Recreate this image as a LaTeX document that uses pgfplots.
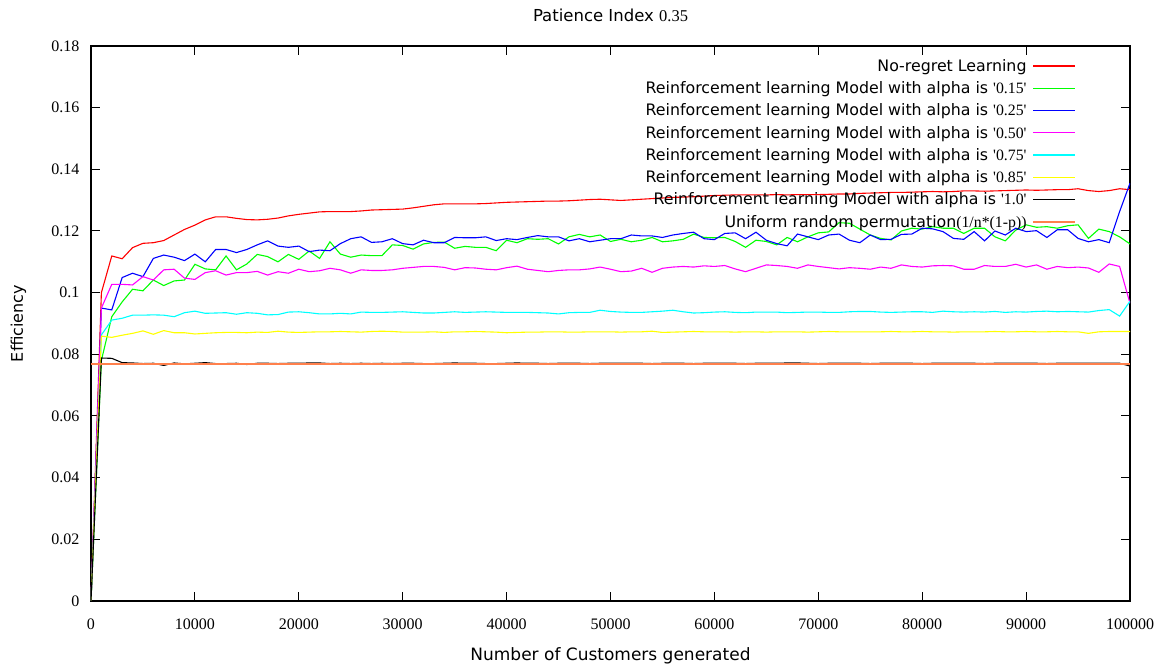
\documentclass[border=0pt]{standalone}
\usepackage{fontspec}
\setmainfont{Liberation Serif}
\setsansfont{DejaVu Sans}
\usepackage{pgfplots}
\usepackage{pgfplotstable}
\pgfplotsset{compat=1.18}

% pure screen colours
\definecolor{cRed}{rgb}{1,0,0}
\definecolor{cGreen}{rgb}{0,1,0}
\definecolor{cBlue}{rgb}{0,0,1}
\definecolor{cMagenta}{rgb}{1,0,1}
\definecolor{cCyan}{rgb}{0,1,1}
\definecolor{cYellow}{rgb}{1,1,0}
\definecolor{cBlack}{rgb}{0,0,0}
\definecolor{cOrange}{rgb}{1,0.5,0.3}

\newcommand{\sq}{\textquotesingle}
\newcommand{\rl}[1]{\sffamily Reinforcement learning Model with alpha is \rmfamily\sq#1\sq}

% short coloured sample line for each legend row
\pgfplotsset{
  limg/.style={legend image code/.code={\draw[#1, line width=1.3bp] plot coordinates {(0bp,0bp) (42bp,0bp)};}},
}

% efficiency per number of customers generated
% R: no-regret, G: alpha 0.15, B: 0.25, M: 0.50, C: 0.75, Y: 0.85, K: 1.0, U: uniform random permutation
\pgfplotstableread{
x R G B M C Y K U
0 0 0 0 0 0 0 0 0.077
1000 0.1000 0.0780 0.0950 0.0950 0.0863 0.0859 0.0788 0.077
2000 0.1119 0.0922 0.0944 0.1027 0.0911 0.0855 0.0787 0.077
3000 0.1110 0.0970 0.1049 0.1027 0.0917 0.0862 0.0773 0.077
4000 0.1146 0.1011 0.1063 0.1025 0.0927 0.0868 0.0772 0.077
5000 0.1160 0.1006 0.1052 0.1052 0.0927 0.0876 0.0770 0.077
6000 0.1162 0.1041 0.1111 0.1041 0.0928 0.0865 0.0771 0.077
7000 0.1169 0.1023 0.1122 0.1074 0.0927 0.0877 0.0764 0.077
8000 0.1187 0.1038 0.1115 0.1076 0.0922 0.0870 0.0772 0.077
9000 0.1205 0.1041 0.1104 0.1047 0.0935 0.0870 0.0769 0.077
10000 0.1219 0.1092 0.1125 0.1043 0.0940 0.0866 0.0771 0.077
11000 0.1236 0.1077 0.1100 0.1065 0.0933 0.0868 0.0773 0.077
12000 0.1246 0.1074 0.1140 0.1071 0.0934 0.0870 0.0770 0.077
13000 0.1246 0.1119 0.1140 0.1057 0.0935 0.0871 0.0770 0.077
14000 0.1241 0.1074 0.1130 0.1065 0.0930 0.0871 0.0771 0.077
15000 0.1237 0.1093 0.1140 0.1065 0.0935 0.0870 0.0767 0.077
16000 0.1236 0.1124 0.1155 0.1069 0.0933 0.0872 0.0771 0.077
17000 0.1238 0.1117 0.1168 0.1057 0.0928 0.0871 0.0771 0.077
18000 0.1242 0.1100 0.1151 0.1068 0.0929 0.0875 0.0770 0.077
19000 0.1249 0.1124 0.1147 0.1063 0.0937 0.0872 0.0771 0.077
20000 0.1254 0.1108 0.1151 0.1076 0.0938 0.0871 0.0771 0.077
21000 0.1258 0.1135 0.1133 0.1068 0.0935 0.0872 0.0772 0.077
22000 0.1262 0.1111 0.1138 0.1071 0.0931 0.0873 0.0772 0.077
23000 0.1263 0.1165 0.1136 0.1079 0.0931 0.0873 0.0770 0.077
24000 0.1263 0.1125 0.1159 0.1074 0.0933 0.0874 0.0771 0.077
25000 0.1263 0.1115 0.1175 0.1063 0.0931 0.0873 0.0770 0.077
26000 0.1265 0.1122 0.1181 0.1074 0.0937 0.0872 0.0771 0.077
27000 0.1268 0.1120 0.1163 0.1072 0.0936 0.0874 0.0770 0.077
28000 0.1269 0.1120 0.1165 0.1072 0.0936 0.0875 0.0771 0.077
29000 0.1270 0.1155 0.1175 0.1074 0.0937 0.0874 0.0770 0.077
30000 0.1271 0.1153 0.1159 0.1079 0.0938 0.0872 0.0771 0.077
31000 0.1275 0.1141 0.1155 0.1082 0.0936 0.0872 0.0771 0.077
32000 0.1280 0.1158 0.1170 0.1085 0.0934 0.0872 0.0770 0.077
33000 0.1285 0.1163 0.1162 0.1085 0.0934 0.0873 0.0770 0.077
34000 0.1288 0.1164 0.1162 0.1082 0.0936 0.0871 0.0771 0.077
35000 0.1288 0.1144 0.1179 0.1074 0.0938 0.0873 0.0772 0.077
36000 0.1288 0.1150 0.1178 0.1081 0.0936 0.0873 0.0771 0.077
37000 0.1288 0.1147 0.1178 0.1080 0.0937 0.0874 0.0771 0.077
38000 0.1289 0.1147 0.1181 0.1076 0.0938 0.0873 0.0770 0.077
39000 0.1291 0.1136 0.1169 0.1074 0.0937 0.0872 0.0770 0.077
40000 0.1293 0.1170 0.1175 0.1081 0.0936 0.0870 0.0771 0.077
41000 0.1294 0.1162 0.1172 0.1086 0.0936 0.0871 0.0772 0.077
42000 0.1295 0.1175 0.1179 0.1076 0.0936 0.0872 0.0771 0.077
43000 0.1296 0.1173 0.1185 0.1072 0.0935 0.0872 0.0771 0.077
44000 0.1297 0.1175 0.1181 0.1068 0.0934 0.0873 0.0770 0.077
45000 0.1297 0.1158 0.1181 0.1072 0.0931 0.0873 0.0771 0.077
46000 0.1298 0.1181 0.1168 0.1074 0.0935 0.0872 0.0771 0.077
47000 0.1300 0.1189 0.1175 0.1074 0.0936 0.0872 0.0771 0.077
48000 0.1302 0.1181 0.1165 0.1077 0.0936 0.0873 0.0770 0.077
49000 0.1303 0.1187 0.1170 0.1083 0.0943 0.0873 0.0771 0.077
50000 0.1301 0.1166 0.1175 0.1076 0.0939 0.0873 0.0771 0.077
51000 0.1299 0.1173 0.1175 0.1068 0.0937 0.0872 0.0771 0.077
52000 0.1301 0.1165 0.1187 0.1070 0.0936 0.0873 0.0771 0.077
53000 0.1303 0.1170 0.1184 0.1079 0.0936 0.0873 0.0771 0.077
54000 0.1305 0.1179 0.1184 0.1066 0.0938 0.0875 0.0770 0.077
55000 0.1307 0.1165 0.1179 0.1079 0.0940 0.0871 0.0771 0.077
56000 0.1309 0.1168 0.1187 0.1083 0.0943 0.0872 0.0771 0.077
57000 0.1310 0.1173 0.1192 0.1085 0.0938 0.0873 0.0771 0.077
58000 0.1311 0.1190 0.1196 0.1083 0.0934 0.0874 0.0770 0.077
59000 0.1313 0.1179 0.1175 0.1087 0.0935 0.0873 0.0771 0.077
60000 0.1315 0.1178 0.1172 0.1085 0.0937 0.0873 0.0771 0.077
61000 0.1316 0.1179 0.1192 0.1088 0.0938 0.0873 0.0771 0.077
62000 0.1317 0.1166 0.1194 0.1077 0.0936 0.0872 0.0771 0.077
63000 0.1317 0.1147 0.1175 0.1068 0.0935 0.0873 0.0770 0.077
64000 0.1317 0.1170 0.1196 0.1079 0.0937 0.0873 0.0771 0.077
65000 0.1317 0.1166 0.1170 0.1090 0.0937 0.0872 0.0771 0.077
66000 0.1318 0.1155 0.1159 0.1088 0.0937 0.0873 0.0771 0.077
67000 0.1317 0.1179 0.1152 0.1085 0.0935 0.0873 0.0772 0.077
68000 0.1318 0.1165 0.1190 0.1079 0.0936 0.0873 0.0772 0.077
69000 0.1318 0.1181 0.1181 0.1090 0.0937 0.0872 0.0771 0.077
70000 0.1318 0.1194 0.1172 0.1085 0.0937 0.0873 0.0770 0.077
71000 0.1319 0.1197 0.1187 0.1081 0.0936 0.0874 0.0771 0.077
72000 0.1320 0.1227 0.1190 0.1077 0.0936 0.0873 0.0771 0.077
73000 0.1320 0.1225 0.1170 0.1081 0.0938 0.0873 0.0771 0.077
74000 0.1322 0.1206 0.1162 0.1079 0.0939 0.0873 0.0771 0.077
75000 0.1323 0.1187 0.1187 0.1076 0.0939 0.0873 0.0770 0.077
76000 0.1324 0.1176 0.1172 0.1083 0.0937 0.0873 0.0771 0.077
77000 0.1325 0.1171 0.1173 0.1079 0.0936 0.0874 0.0771 0.077
78000 0.1325 0.1200 0.1189 0.1090 0.0937 0.0873 0.0771 0.077
79000 0.1326 0.1209 0.1190 0.1085 0.0938 0.0873 0.0771 0.077
80000 0.1327 0.1206 0.1209 0.1083 0.0938 0.0874 0.0770 0.077
81000 0.1328 0.1214 0.1207 0.1087 0.0936 0.0873 0.0771 0.077
82000 0.1327 0.1209 0.1198 0.1088 0.0940 0.0873 0.0771 0.077
83000 0.1328 0.1209 0.1176 0.1087 0.0938 0.0872 0.0771 0.077
84000 0.1330 0.1192 0.1173 0.1076 0.0937 0.0873 0.0771 0.077
85000 0.1330 0.1209 0.1198 0.1076 0.0938 0.0873 0.0771 0.077
86000 0.1329 0.1209 0.1168 0.1088 0.0937 0.0873 0.0770 0.077
87000 0.1330 0.1181 0.1200 0.1085 0.0939 0.0874 0.0771 0.077
88000 0.1331 0.1168 0.1187 0.1085 0.0936 0.0873 0.0771 0.077
89000 0.1332 0.1203 0.1209 0.1092 0.0938 0.0873 0.0771 0.077
90000 0.1333 0.1220 0.1198 0.1083 0.0937 0.0874 0.0771 0.077
91000 0.1332 0.1212 0.1201 0.1090 0.0939 0.0873 0.0771 0.077
92000 0.1333 0.1214 0.1179 0.1076 0.0940 0.0873 0.0770 0.077
93000 0.1334 0.1209 0.1204 0.1085 0.0938 0.0874 0.0771 0.077
94000 0.1334 0.1217 0.1204 0.1081 0.0939 0.0873 0.0771 0.077
95000 0.1337 0.1220 0.1176 0.1083 0.0938 0.0873 0.0771 0.077
96000 0.1331 0.1176 0.1165 0.1080 0.0937 0.0868 0.0771 0.077
97000 0.1328 0.1206 0.1172 0.1066 0.0942 0.0873 0.0771 0.077
98000 0.1331 0.1198 0.1162 0.1093 0.0945 0.0874 0.0771 0.077
99000 0.1337 0.1181 0.1263 0.1085 0.0924 0.0874 0.0771 0.077
100000 0.1334 0.1158 0.1355 0.0965 0.0972 0.0874 0.0762 0.077
}\efftable

\begin{document}
\begin{tikzpicture}[x=1bp,y=1bp]
\path[use as bounding box] (-91,-64) rectangle (1073,601);
\begin{axis}[
  at={(0,0)}, anchor=south west,
  scale only axis, width=1039bp, height=555bp,
  xmin=0, xmax=100000, ymin=0, ymax=0.18,
  xtick={0,10000,20000,30000,40000,50000,60000,70000,80000,90000,100000},
  ytick={0,0.02,0.04,0.06,0.08,0.1,0.12,0.14,0.16,0.18},
  scaled x ticks=false, scaled y ticks=false,
  /pgf/number format/assume math mode=true,
  xticklabel style={/pgf/number format/fixed, /pgf/number format/1000 sep={}, yshift=-14bp},
  yticklabel style={/pgf/number format/fixed, /pgf/number format/precision=2, xshift=-8bp},
  tick label style={font=\fontsize{16bp}{16bp}\selectfont},
  tick align=inside, major tick length=9bp,
  axis line style={line width=1.2bp},
  every tick/.style={black, line width=1bp},
  title={\sffamily Patience Index \rmfamily 0.35},
  title style={font=\fontsize{16.5bp}{18bp}\selectfont, at={(axis description cs:0.5,1)}, anchor=base, yshift=19bp},
  xlabel={Number of Customers generated},
  xlabel style={font=\sffamily\fontsize{17bp}{18bp}\selectfont, at={(axis description cs:0.5,0)}, anchor=base, yshift=-60bp},
  ylabel={Efficiency},
  ylabel style={font=\sffamily\fontsize{16bp}{18bp}\selectfont, at={(axis description cs:-0.0655,0.5)}, anchor=base},
  legend plot pos=right,
  legend cell align=right,
  legend style={draw=none, fill=none, at={(axis description cs:1,1)}, anchor=north east,
    xshift=-51bp, yshift=-9bp,
    font=\fontsize{15.8bp}{18bp}\selectfont,
    row sep=4.8bp, column sep=4bp},
  every axis plot/.append style={line width=1.1bp},
]
\addplot[color=cRed, limg=cRed] table[x=x, y=R] {\efftable};
\addlegendentry{\sffamily No-regret Learning}
\addplot[color=cGreen, limg=cGreen] table[x=x, y=G] {\efftable};
\addlegendentry{\rl{0.15}}
\addplot[color=cBlue, limg=cBlue] table[x=x, y=B] {\efftable};
\addlegendentry{\rl{0.25}}
\addplot[color=cMagenta, limg=cMagenta] table[x=x, y=M] {\efftable};
\addlegendentry{\rl{0.50}}
\addplot[color=cCyan, limg=cCyan] table[x=x, y=C] {\efftable};
\addlegendentry{\rl{0.75}}
\addplot[color=cYellow, limg=cYellow] table[x=x, y=Y] {\efftable};
\addlegendentry{\rl{0.85}}
\addplot[color=cBlack, limg=cBlack] table[x=x, y=K] {\efftable};
\addlegendentry{\rl{1.0}}
\addplot[color=cOrange, line width=2bp, limg=cOrange] table[x=x, y=U] {\efftable};
\addlegendentry{\sffamily Uniform random permutation\rmfamily(1/n*(1-p))}
\end{axis}
\end{tikzpicture}
\end{document}
